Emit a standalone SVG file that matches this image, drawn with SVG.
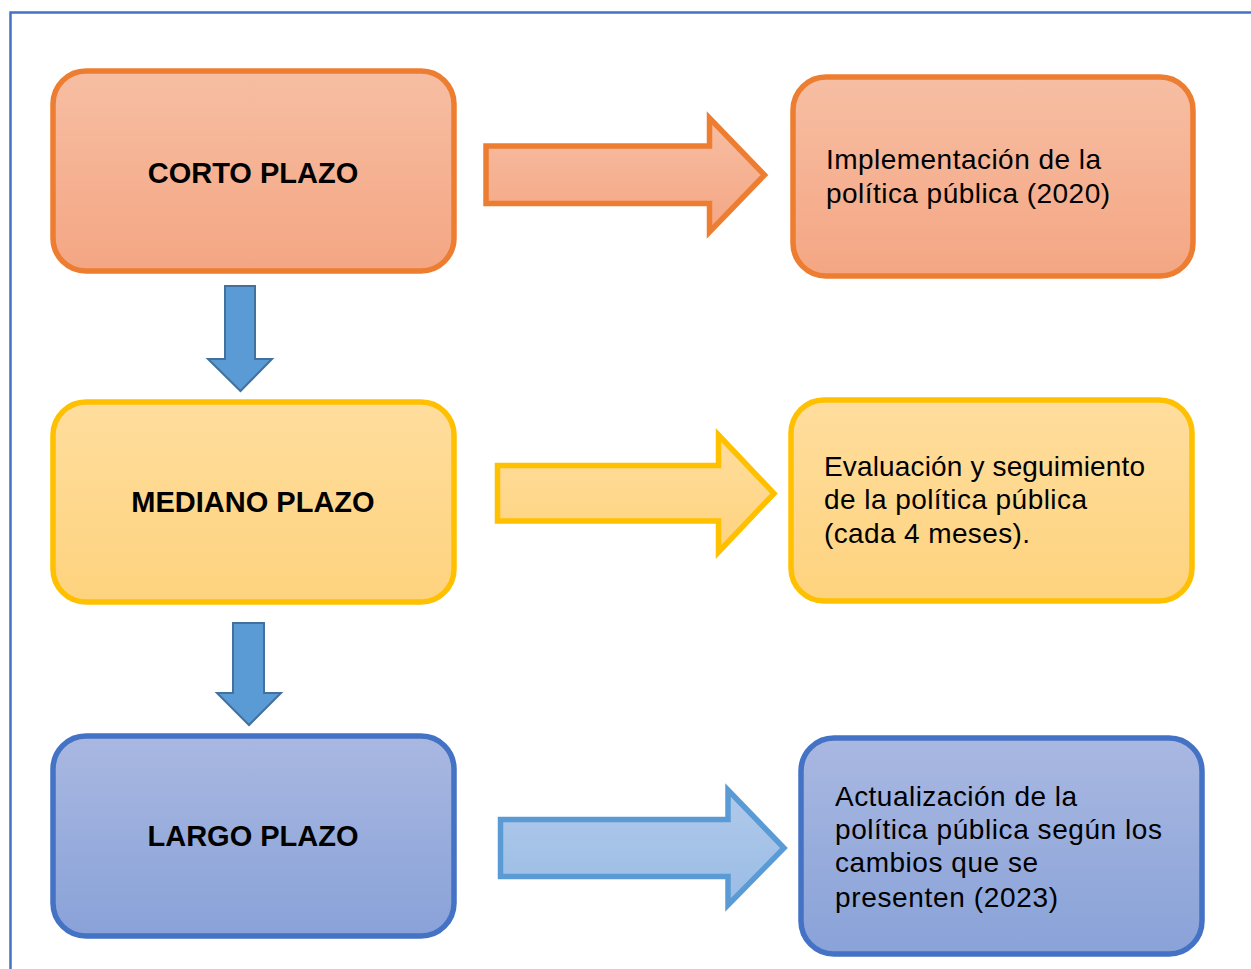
<svg xmlns="http://www.w3.org/2000/svg" width="1251" height="969" viewBox="0 0 1251 969">
<defs>
<linearGradient id="gO" x1="0" y1="0" x2="0" y2="1"><stop offset="0" stop-color="#F7BEA3"/><stop offset="1" stop-color="#F4A683"/></linearGradient>
<linearGradient id="gY" x1="0" y1="0" x2="0" y2="1"><stop offset="0" stop-color="#FFDD9D"/><stop offset="1" stop-color="#FED37E"/></linearGradient>
<linearGradient id="gB" x1="0" y1="0" x2="0" y2="1"><stop offset="0" stop-color="#A9B8E1"/><stop offset="1" stop-color="#89A2D8"/></linearGradient>
<linearGradient id="gA" x1="0" y1="0" x2="0" y2="1"><stop offset="0" stop-color="#B0C9EA"/><stop offset="1" stop-color="#9ABCE5"/></linearGradient>
</defs>
<style>
.frame{fill:none;stroke:#4472C4;stroke-width:2.5}
.o{fill:url(#gO);stroke:#ED7D31;stroke-width:5.5}
.y{fill:url(#gY);stroke:#FFC000;stroke-width:5.5}
.b{fill:url(#gB);stroke:#4472C4;stroke-width:5.5}
.ba{fill:url(#gA);stroke:#5B9BD5;stroke-width:5.5}
.down{fill:#5B9BD5;stroke:#41719C;stroke-width:2}
.t{font-family:"Liberation Sans",Arial,sans-serif;font-size:28px;fill:#000}
.h{font-family:"Liberation Sans",Arial,sans-serif;font-size:29px;font-weight:bold;fill:#000;text-anchor:middle}
</style>
<rect width="1251" height="969" fill="#fff"/>
<path class="frame" d="M10.5 969 V12.5 H1251"/>

<g id="corto">
<rect class="o" x="53" y="71" width="401" height="200" rx="33"/>
<text class="h" x="253" y="183">CORTO PLAZO</text>
</g>
<g id="mediano">
<rect class="y" x="53" y="402" width="401" height="200" rx="33"/>
<text class="h" x="253" y="512">MEDIANO PLAZO</text>
</g>
<g id="largo">
<rect class="b" x="53" y="736" width="401" height="200" rx="33"/>
<text class="h" x="253" y="846">LARGO PLAZO</text>
</g>

<g id="implementacion">
<rect class="o" x="793" y="77" width="400" height="199" rx="33"/>
<text class="t" x="826" y="169" textLength="275">Implementación de la</text>
<text class="t" x="826" y="203" textLength="284">política pública (2020)</text>
</g>
<g id="evaluacion">
<rect class="y" x="791" y="400" width="401" height="201" rx="33"/>
<text class="t" x="824" y="476" textLength="321">Evaluación y seguimiento</text>
<text class="t" x="824" y="509" textLength="263">de la política pública</text>
<text class="t" x="824" y="543" textLength="206">(cada 4 meses).</text>
</g>
<g id="actualizacion">
<rect class="b" x="801" y="738" width="401" height="216" rx="33"/>
<text class="t" x="835" y="806" textLength="242">Actualización de la</text>
<text class="t" x="835" y="839" textLength="327">política pública según los</text>
<text class="t" x="835" y="872" textLength="203">cambios que se</text>
<text class="t" x="835" y="907" textLength="223">presenten (2023)</text>
</g>

<g id="connectors">
<path class="o" d="M486 146 H709.5 V118 L764.5 175 L709.5 232 V203.5 H486 Z"/>
<path class="y" d="M497.5 465.5 H718.5 V435 L774 493.5 L718.5 552 V521 H497.5 Z"/>
<path class="ba" d="M500.5 819.5 H728 V790 L784 848 L728 905 V876.5 H500.5 Z"/>
<path class="down" d="M225 286 H255 V359 H272 L240.5 391 L208 359 H225 Z"/>
<path class="down" d="M233 623 H264 V693 H281 L249 725 L217 693 H233 Z"/>
</g>
</svg>
